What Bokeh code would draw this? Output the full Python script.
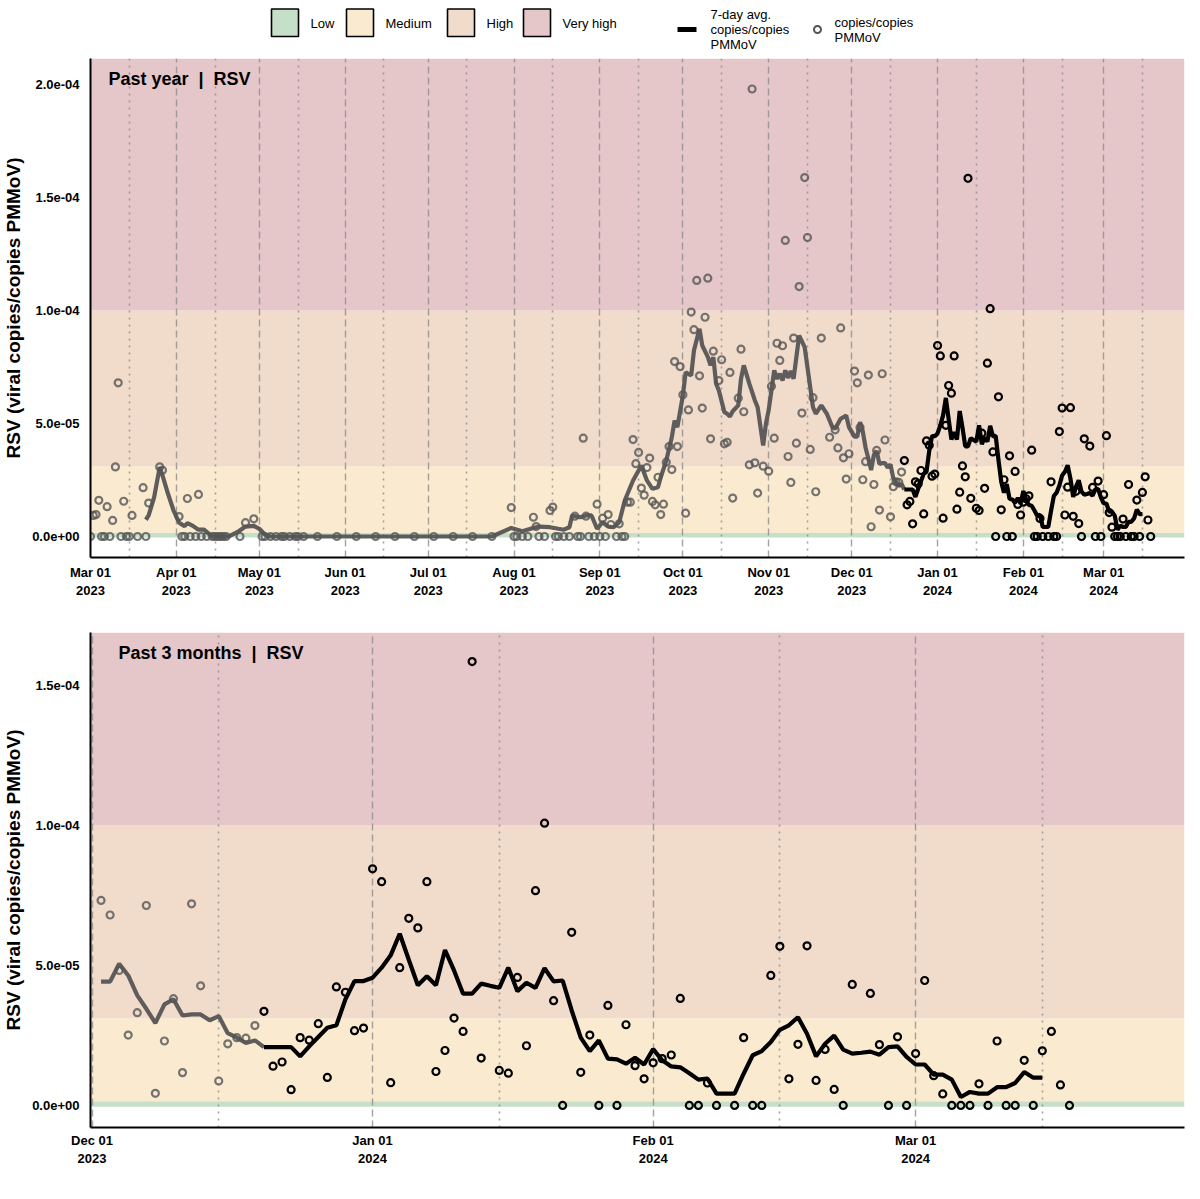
import pandas as pd
from bokeh.plotting import figure
from bokeh.models import (Range1d, FixedTicker, CustomJSTickFormatter, BoxAnnotation,
                          Grid, Label)
from bokeh.layouts import column
from bokeh.embed import file_html
from bokeh.resources import INLINE
from bokeh.core.properties import value

# ---------------- data (values in units of 1e-6 copies/copies PMMoV) ----------------
sample_dates = [
    "2023-03-01", "2023-03-02", "2023-03-03", "2023-03-04", "2023-03-05", "2023-03-06", "2023-03-07",
    "2023-03-08", "2023-03-09", "2023-03-10", "2023-03-11", "2023-03-12", "2023-03-13", "2023-03-14",
    "2023-03-15", "2023-03-16", "2023-03-18", "2023-03-20", "2023-03-21", "2023-03-22", "2023-03-26",
    "2023-03-27",
    "2023-04-02", "2023-04-03", "2023-04-04", "2023-04-05", "2023-04-06", "2023-04-08", "2023-04-09",
    "2023-04-10", "2023-04-12", "2023-04-14", "2023-04-15", "2023-04-16", "2023-04-17", "2023-04-18",
    "2023-04-19", "2023-04-24", "2023-04-26", "2023-04-29",
    "2023-05-02", "2023-05-03", "2023-05-05", "2023-05-07", "2023-05-09", "2023-05-10", "2023-05-12",
    "2023-05-14", "2023-05-15", "2023-05-17", "2023-05-22", "2023-05-29",
    "2023-06-05", "2023-06-12", "2023-06-19", "2023-06-26",
    "2023-07-03", "2023-07-10", "2023-07-17", "2023-07-24", "2023-07-31",
    "2023-08-01", "2023-08-02", "2023-08-04", "2023-08-06", "2023-08-08", "2023-08-09", "2023-08-10",
    "2023-08-12", "2023-08-14", "2023-08-15", "2023-08-16", "2023-08-17", "2023-08-19", "2023-08-21",
    "2023-08-23", "2023-08-24", "2023-08-25", "2023-08-26", "2023-08-27", "2023-08-28", "2023-08-30",
    "2023-08-31",
    "2023-09-01", "2023-09-02", "2023-09-03", "2023-09-04", "2023-09-05", "2023-09-07", "2023-09-08",
    "2023-09-09", "2023-09-10", "2023-09-11", "2023-09-12", "2023-09-13", "2023-09-14", "2023-09-15",
    "2023-09-16", "2023-09-17", "2023-09-18", "2023-09-19", "2023-09-20", "2023-09-21", "2023-09-22",
    "2023-09-23", "2023-09-24", "2023-09-25", "2023-09-26", "2023-09-27", "2023-09-28", "2023-09-29",
    "2023-09-30",
    "2023-10-01", "2023-10-02", "2023-10-03", "2023-10-04", "2023-10-05", "2023-10-06", "2023-10-07",
    "2023-10-08", "2023-10-09", "2023-10-10", "2023-10-11", "2023-10-12", "2023-10-14", "2023-10-15",
    "2023-10-16", "2023-10-17", "2023-10-18", "2023-10-19", "2023-10-21", "2023-10-22", "2023-10-23",
    "2023-10-25", "2023-10-26", "2023-10-27", "2023-10-28", "2023-10-30",
    "2023-11-01", "2023-11-02", "2023-11-03", "2023-11-04", "2023-11-05", "2023-11-06", "2023-11-07",
    "2023-11-08", "2023-11-09", "2023-11-10", "2023-11-11", "2023-11-12", "2023-11-13", "2023-11-14",
    "2023-11-15", "2023-11-16", "2023-11-17", "2023-11-18", "2023-11-20", "2023-11-23", "2023-11-25",
    "2023-11-26", "2023-11-27", "2023-11-28", "2023-11-29", "2023-11-30",
    "2023-12-02", "2023-12-03", "2023-12-04", "2023-12-05", "2023-12-06", "2023-12-07", "2023-12-08",
    "2023-12-09", "2023-12-10", "2023-12-11", "2023-12-12", "2023-12-13", "2023-12-15", "2023-12-16",
    "2023-12-17", "2023-12-18", "2023-12-19", "2023-12-20", "2023-12-21", "2023-12-22", "2023-12-23",
    "2023-12-24", "2023-12-25", "2023-12-26", "2023-12-27", "2023-12-28", "2023-12-29", "2023-12-30",
    "2023-12-31",
    "2024-01-01", "2024-01-02", "2024-01-03", "2024-01-04", "2024-01-05", "2024-01-06", "2024-01-07",
    "2024-01-08", "2024-01-09", "2024-01-10", "2024-01-11", "2024-01-12", "2024-01-13", "2024-01-15",
    "2024-01-16", "2024-01-17", "2024-01-18", "2024-01-19", "2024-01-20", "2024-01-21", "2024-01-22",
    "2024-01-23", "2024-01-24", "2024-01-25", "2024-01-26", "2024-01-27", "2024-01-28", "2024-01-29",
    "2024-01-30", "2024-01-31",
    "2024-02-01", "2024-02-02", "2024-02-03", "2024-02-04", "2024-02-05", "2024-02-06", "2024-02-07",
    "2024-02-08", "2024-02-10", "2024-02-11", "2024-02-12", "2024-02-13", "2024-02-14", "2024-02-15",
    "2024-02-16", "2024-02-17", "2024-02-18", "2024-02-19", "2024-02-20", "2024-02-21", "2024-02-22",
    "2024-02-23", "2024-02-25", "2024-02-26", "2024-02-27", "2024-02-28", "2024-02-29",
    "2024-03-01", "2024-03-02", "2024-03-03", "2024-03-04", "2024-03-05", "2024-03-06", "2024-03-07",
    "2024-03-08", "2024-03-09", "2024-03-10", "2024-03-11", "2024-03-12", "2024-03-13", "2024-03-14",
    "2024-03-15", "2024-03-16", "2024-03-17", "2024-03-18",
]
sample_values = [
    0, 9.3, 9.7, 16.0, 0, 0, 13.2,
    0, 7.1, 30.8, 68.0, 0, 15.6, 0,
    0, 9.3, 0, 21.6, 0, 14.8, 30.8,
    29.3,
    8.8, 0, 0, 16.8, 0, 0, 18.6,
    0, 0, 0, 0, 0, 0, 0,
    0, 0, 6.1, 7.8,
    0, 0, 0, 0, 0, 0, 0,
    0, 0, 0, 0, 0,
    0, 0, 0, 0,
    0, 0, 0, 0, 12.8,
    0, 0, 0, 0, 8.5, 4.4, 0,
    0, 11.5, 13.0, 0, 0, 0, 0,
    9.0, 0, 0, 43.5, 9.0, 0, 0,
    14.3,
    0, 8.1, 0, 9.7, 5.3, 0, 5.6,
    0, 0, 15.2, 15.2, 42.9, 32.2, 37.2,
    21.4, 18.3, 30.5, 34.7, 15.5, 14.0, 26.2,
    9.7, 14.3, 32.9, 39.8, 29.6, 77.4, 39.8,
    75.2,
    62.7, 10.3, 56.0, 99.3, 91.5, 113.3, 71.1,
    56.8, 97.0, 114.3, 43.2, 82.0, 69.0, 78.2,
    41.0, 41.7, 72.6, 17.0, 61.2, 82.9, 55.2,
    31.7, 198.0, 32.6, 19.2, 31.1,
    28.9, 66.5, 43.5, 85.5, 77.9, 84.4, 131.0,
    35.4, 23.9, 87.8, 41.3, 110.6, 54.6, 158.8,
    132.3, 38.5, 61.4, 19.8, 87.8, 43.9, 47.2,
    39.2, 92.3, 34.8, 25.4, 36.6,
    73.2, 68.0, 48.2, 25.1, 33.1, 71.4, 4.3,
    23.0, 38.1, 11.7, 72.0, 42.7, 8.7, 22.0,
    24.2, 24.0, 28.5, 33.6, 14.0, 15.5, 5.6,
    24.2, 23.3, 29.2, 10.0, 42.3, 40.4, 26.7,
    27.6,
    84.5, 79.9, 8.1, 49.2, 66.8, 63.4, 79.9,
    12.1, 19.6, 31.2, 26.4, 158.5, 16.9, 12.5,
    11.5, 45.7, 21.3, 76.7, 100.8, 37.4, 0,
    61.8, 11.8, 25.1, 0, 35.7, 0, 28.8,
    14.2, 9.5,
    15.2, 16.7, 18.0, 38.2, 0, 0, 8.0,
    0, 0, 24.2, 0, 0, 46.4, 56.8,
    9.5, 21.8, 57.0, 8.9, 20.0, 5.7, 0,
    43.2, 40.0, 21.7, 0, 24.5, 0,
    18.5, 44.6, 10.6, 4.1, 0, 0, 0,
    7.7, 0, 23.0, 0, 0, 16.1, 0,
    19.5, 26.4, 7.3, 0,
]

avg_dates = [
    "2023-03-21", "2023-03-22", "2023-03-24", "2023-03-26", "2023-03-27", "2023-03-29", "2023-03-31",
    "2023-04-02", "2023-04-04", "2023-04-05", "2023-04-07", "2023-04-09", "2023-04-11", "2023-04-13",
    "2023-04-14", "2023-04-20", "2023-04-23", "2023-04-26", "2023-04-29", "2023-05-01", "2023-05-03",
    "2023-05-05", "2023-07-24", "2023-07-31",
    "2023-08-04", "2023-08-07", "2023-08-10", "2023-08-14", "2023-08-17", "2023-08-19", "2023-08-21",
    "2023-08-22", "2023-08-25", "2023-08-27", "2023-08-29", "2023-08-31",
    "2023-09-02", "2023-09-04", "2023-09-06", "2023-09-08", "2023-09-10", "2023-09-13", "2023-09-16",
    "2023-09-18", "2023-09-20", "2023-09-22", "2023-09-23", "2023-09-25", "2023-09-27", "2023-09-28",
    "2023-09-29",
    "2023-10-01", "2023-10-02", "2023-10-04", "2023-10-05", "2023-10-07", "2023-10-08", "2023-10-10",
    "2023-10-11", "2023-10-12", "2023-10-13", "2023-10-14", "2023-10-16", "2023-10-17", "2023-10-18",
    "2023-10-19", "2023-10-21", "2023-10-22", "2023-10-23", "2023-10-25", "2023-10-27", "2023-10-28",
    "2023-10-30", "2023-10-31",
    "2023-11-01", "2023-11-03", "2023-11-04", "2023-11-05", "2023-11-06", "2023-11-07", "2023-11-08",
    "2023-11-09", "2023-11-10", "2023-11-12", "2023-11-14", "2023-11-15", "2023-11-17", "2023-11-18",
    "2023-11-20", "2023-11-22", "2023-11-24", "2023-11-25", "2023-11-27", "2023-11-29", "2023-11-30",
    "2023-12-02", "2023-12-03", "2023-12-04", "2023-12-05", "2023-12-06", "2023-12-07", "2023-12-08",
    "2023-12-09", "2023-12-10", "2023-12-11", "2023-12-12", "2023-12-13", "2023-12-14", "2023-12-15",
    "2023-12-16", "2023-12-17", "2023-12-18", "2023-12-19", "2023-12-20", "2023-12-21", "2023-12-22",
    "2023-12-23", "2023-12-24", "2023-12-25", "2023-12-26", "2023-12-27", "2023-12-28", "2023-12-29",
    "2023-12-30", "2023-12-31",
    "2024-01-01", "2024-01-02", "2024-01-03", "2024-01-04", "2024-01-05", "2024-01-06", "2024-01-07",
    "2024-01-08", "2024-01-09", "2024-01-10", "2024-01-11", "2024-01-12", "2024-01-13", "2024-01-14",
    "2024-01-15", "2024-01-16", "2024-01-17", "2024-01-18", "2024-01-19", "2024-01-20", "2024-01-21",
    "2024-01-22", "2024-01-23", "2024-01-24", "2024-01-25", "2024-01-26", "2024-01-27", "2024-01-28",
    "2024-01-29", "2024-01-30", "2024-01-31",
    "2024-02-01", "2024-02-02", "2024-02-03", "2024-02-04", "2024-02-05", "2024-02-06", "2024-02-07",
    "2024-02-08", "2024-02-09", "2024-02-10", "2024-02-11", "2024-02-12", "2024-02-13", "2024-02-14",
    "2024-02-15", "2024-02-16", "2024-02-17", "2024-02-18", "2024-02-19", "2024-02-20", "2024-02-21",
    "2024-02-22", "2024-02-23", "2024-02-24", "2024-02-25", "2024-02-26", "2024-02-27", "2024-02-28",
    "2024-02-29",
    "2024-03-01", "2024-03-02", "2024-03-03", "2024-03-04", "2024-03-05", "2024-03-06", "2024-03-07",
    "2024-03-08", "2024-03-09", "2024-03-10", "2024-03-11", "2024-03-12", "2024-03-13", "2024-03-14",
    "2024-03-15",
]
avg_values = [
    7.4, 9.3, 17.4, 30.7, 27.0, 18.9, 11.5,
    6.1, 4.6, 5.9, 4.7, 3.0, 3.0, 0.9,
    0, 0, 1.9, 4.4, 4.7, 3.4, 0.9,
    0, 0, 3.8,
    2.3, 3.4, 4.4, 4.1, 3.4, 3.0, 4.1,
    9.3, 8.5, 9.3, 9.3, 3.4,
    6.3, 4.4, 4.1, 6.3, 15.9, 24.8, 31.4,
    24.8, 21.1, 21.8, 26.2, 33.6, 43.9, 51.3,
    48.4,
    62.4, 72.7, 71.2, 82.3, 91.9, 84.5, 79.5,
    75.7, 79.3, 67.6, 64.6, 55.0, 54.3, 53.1,
    55.4, 58.0, 69.8, 75.7, 67.6, 60.2, 57.2,
    40.3, 49.9,
    56.0, 73.5, 69.8, 72.0, 69.0, 73.5, 70.2,
    73.2, 69.8, 88.9, 83.8, 74.9, 57.2, 54.3,
    58.0, 54.3, 48.4, 47.7, 52.1, 53.5, 48.4,
    44.2, 44.2, 50.6, 46.4, 39.3, 34.5, 29.4,
    36.1, 37.9, 32.1, 32.5, 32.5, 30.4, 31.9,
    25.8, 24.2, 22.3, 23.2, 20.8, 20.8, 20.8,
    20.8, 17.5, 21.1, 24.4, 27.7, 28.6, 37.9,
    44.4, 44.4,
    45.6, 49.2, 53.6, 61.3, 52.0, 42.9, 46.1,
    42.9, 55.5, 48.2, 39.9, 39.9, 43.5, 42.7,
    42.0, 49.2, 40.8, 43.8, 42.0, 49.0, 44.3,
    44.6, 33.9, 24.2, 19.4, 23.2, 16.7, 16.4,
    14.9, 17.0, 14.6,
    20.1, 16.1, 13.9, 13.6, 11.5, 9.2, 9.6,
    4.2, 4.2, 4.2, 11.3, 17.9, 19.4, 22.6,
    27.0, 28.6, 31.5, 25.6, 17.5, 22.0, 24.9,
    19.9, 18.5, 18.8, 19.2, 18.1, 20.8, 21.1,
    17.3,
    14.6, 14.6, 11.0, 11.0, 9.2, 3.0, 4.8,
    4.2, 4.2, 6.5, 6.5, 8.0, 11.9, 9.9,
    9.9,
]

UNIT = 1e-6
recent_start = "2023-12-20"          # samples from here on are drawn in black
level_names = ["Low", "Medium", "High", "Very high"]
level_bounds = [-0.5, 1.5, 31.0, 100.0, None]   # 1e-6 units; None = open top
level_colors = ["#c6dfc9", "#faebd0", "#f1dbca", "#e5c7c9"]

y_axis_title = "RSV (viral copies/copies PMMoV)"
FONT = "Liberation Sans"
GREY = "#555555"
BORDER_L, BORDER_R, FRAME_W = 84, 6, 1094


def ms(d):
    return pd.Timestamp(d).value / 1e6


samples = pd.DataFrame({"date": pd.to_datetime(sample_dates), "value": [v * UNIT for v in sample_values]})
avg = pd.DataFrame({"date": pd.to_datetime(avg_dates), "value": [v * UNIT for v in avg_values]})

xfmt = CustomJSTickFormatter(code="""
const d = new Date(tick);
const mn = ["Jan","Feb","Mar","Apr","May","Jun","Jul","Aug","Sep","Oct","Nov","Dec"];
const dd = d.getUTCDate();
return mn[d.getUTCMonth()] + " " + (dd < 10 ? "0" + dd : dd) + "\\n" + d.getUTCFullYear();
""")
yfmt = CustomJSTickFormatter(code="""
const s = tick.toExponential(1);
const parts = s.split('e');
const e = parseInt(parts[1]);
const a = Math.abs(e);
return parts[0] + 'e' + (e < 0 ? '-' : '+') + (a < 10 ? '0' + a : a);
""")


def make_panel(title, x0, x1, y0, y1, y_ticks, data_start, frame_h, b_top, b_bottom, title_x, x_standoff):
    p = figure(frame_width=FRAME_W, frame_height=frame_h, x_axis_type="datetime",
               x_range=Range1d(ms(x0), ms(x1)), y_range=Range1d(y0 * UNIT, y1 * UNIT),
               output_backend="svg", toolbar_location=None,
               min_border_left=BORDER_L, min_border_right=BORDER_R,
               min_border_top=b_top, min_border_bottom=b_bottom)
    p.outline_line_color = None
    p.background_fill_color = "white"

    # risk level bands
    for i in range(len(level_names)):
        lo = level_bounds[i] * UNIT
        hi = None if level_bounds[i + 1] is None else level_bounds[i + 1] * UNIT
        p.add_layout(BoxAnnotation(bottom=lo, top=hi, fill_color=level_colors[i], fill_alpha=1.0,
                                   line_color=None, level="image"))

    start = pd.Timestamp(x0)
    months = pd.date_range(start.normalize() + pd.offsets.MonthBegin(0), x1, freq="MS")
    mids = pd.date_range(start.normalize().replace(day=1), x1, freq="MS") + pd.Timedelta(days=14)
    mids = [m for m in mids if m > start]
    month_ms = [ms(m) for m in months]
    mid_ms = [ms(m) for m in mids]

    p.xgrid.ticker = FixedTicker(ticks=month_ms)
    p.xgrid.grid_line_color = "#8c8c8c"
    p.xgrid.grid_line_alpha = 0.8
    p.xgrid.grid_line_width = 1.4
    p.xgrid.grid_line_dash = "7 4"
    p.ygrid.visible = False
    p.add_layout(Grid(dimension=0, ticker=FixedTicker(ticks=mid_ms), grid_line_color="#8c8c8c",
                      grid_line_alpha=0.8, grid_line_width=1.6, grid_line_dash="2 5"))

    p.xaxis.ticker = FixedTicker(ticks=month_ms)
    p.xaxis.formatter = xfmt
    p.yaxis.ticker = FixedTicker(ticks=[t * UNIT for t in y_ticks])
    p.yaxis.formatter = yfmt
    for ax in (p.xaxis, p.yaxis):
        ax.major_label_text_font = FONT
        ax.major_label_text_font_style = "bold"
        ax.major_label_text_font_size = "13px"
        ax.major_label_text_color = "black"
        ax.major_tick_line_color = None
        ax.minor_tick_line_color = None
        ax.major_tick_out = 0
        ax.major_tick_in = 0
        ax.minor_tick_out = 0
        ax.minor_tick_in = 0
        ax.axis_line_color = "black"
        ax.axis_line_width = 2
    p.xaxis.major_label_standoff = x_standoff
    p.yaxis.major_label_standoff = 11
    p.yaxis.axis_label = y_axis_title
    p.yaxis.axis_label_text_font = FONT
    p.yaxis.axis_label_text_font_style = "bold"
    p.yaxis.axis_label_text_font_size = "19px"
    p.yaxis.axis_label_text_color = "black"
    p.yaxis.axis_label_standoff = 5

    s = samples[samples["date"] >= pd.Timestamp(data_start)]
    a = avg[avg["date"] >= pd.Timestamp(data_start)]
    cut = pd.Timestamp(recent_start)
    s_old, s_new = s[s["date"] < cut], s[s["date"] >= cut]
    a_old, a_new = a[a["date"] <= cut], a[a["date"] >= cut]

    p.line(a_old["date"], a_old["value"], line_color=GREY, line_width=4.2, line_alpha=0.95)
    p.line(a_new["date"], a_new["value"], line_color="black", line_width=4.2)
    p.scatter(s_old["date"], s_old["value"], marker="circle", size=7, fill_color=None,
              line_color=GREY, line_width=2.2, line_alpha=0.8)
    p.scatter(s_new["date"], s_new["value"], marker="circle", size=7, fill_color=None,
              line_color="black", line_width=2.2)

    p.add_layout(Label(x=title_x, y=frame_h - 20, x_units="screen", y_units="screen", text=title,
                       text_font=FONT, text_font_style="bold", text_font_size="18px",
                       text_color="black", text_baseline="middle"))
    return p


top = make_panel("Past year \u00a0|\u00a0 RSV", "2023-03-01", "2024-03-30 05:00", -9.3, 211.5,
                 [0, 50, 100, 150, 200], "2023-03-01", 499, 0, 55, 18, 7)
bottom = make_panel("Past 3 months \u00a0|\u00a0 RSV", "2023-11-30 20:00", "2024-03-30 17:00", -7.9, 168.9,
                    [0, 50, 100, 150], "2023-12-01", 495, 20, 56, 28, 5)

# ---------------- legend strip (its frame spans the same columns as the panels) ----------------
lg = figure(frame_width=FRAME_W, frame_height=58, x_range=Range1d(92, 1186), y_range=Range1d(58, 0),
            output_backend="svg", toolbar_location=None,
            min_border_left=BORDER_L, min_border_right=BORDER_R, min_border_top=0, min_border_bottom=0)
lg.axis.visible = False
lg.grid.visible = False
lg.outline_line_color = None
sw_left = [273, 348, 449, 525]
lg.quad(left=sw_left, right=[v + 27 for v in sw_left], top=[8.5] * 4, bottom=[36] * 4,
        fill_color=level_colors, line_color="black", line_width=1.6)
lg.text(x=[v + 39 for v in sw_left], y=[22.5] * 4, text=level_names, text_baseline="middle",
        text_font=value(FONT), text_font_size=value("13px"), text_color="black")
lg.line([679, 698], [29, 29], line_color="black", line_width=5)
lg.text(x=[712] * 3, y=[14, 29, 44], text=["7-day avg.", "copies/copies", "PMMoV"], text_baseline="middle",
        text_font=value(FONT), text_font_size=value("13px"), text_color="black")
lg.scatter([819], [29], marker="circle", size=7, fill_color=None, line_color=GREY, line_width=2)
lg.text(x=[836] * 2, y=[21.5, 37], text=["copies/copies", "PMMoV"], text_baseline="middle",
        text_font=value(FONT), text_font_size=value("13px"), text_color="black")

layout = column(lg, top, bottom, spacing=0)
open("out.html", "w").write(file_html(layout, INLINE))
